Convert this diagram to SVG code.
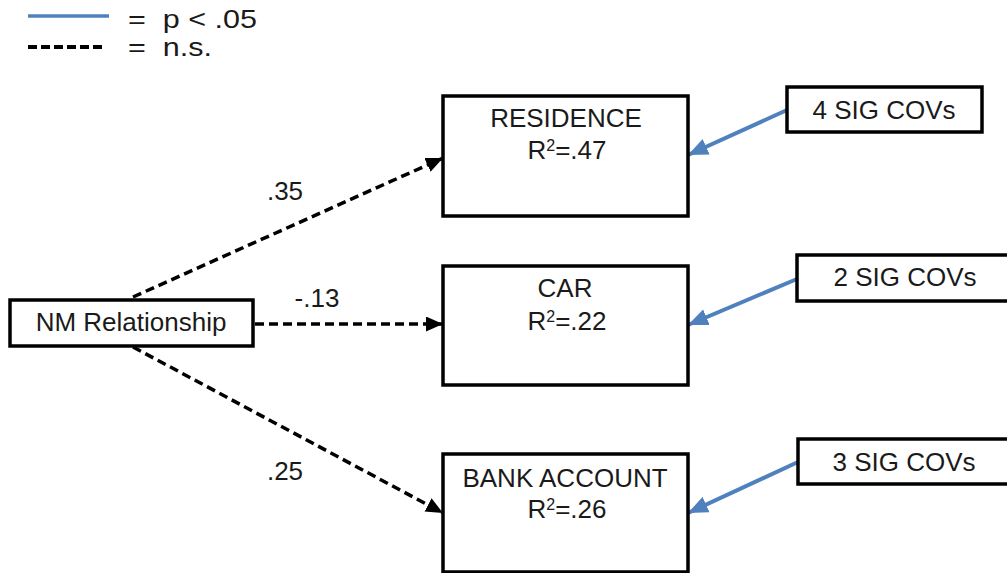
<svg xmlns="http://www.w3.org/2000/svg" width="1007" height="573" viewBox="0 0 1007 573">
  <defs>
    <marker id="arrowBlack" viewBox="0 0 17 15" refX="17" refY="7.5" markerWidth="17" markerHeight="15" markerUnits="userSpaceOnUse" orient="auto">
      <path d="M0,0 L17,7.5 L0,15 Z" fill="#000"/>
    </marker>
    <marker id="arrowBlue" viewBox="0 0 20 17" refX="20" refY="8.5" markerWidth="20" markerHeight="17" markerUnits="userSpaceOnUse" orient="auto">
      <path d="M0,0 L20,8.5 L0,17 Z" fill="#4F81BD"/>
    </marker>
  </defs>
  <style>
    text { font-family: "Liberation Sans", Arial, sans-serif; font-size: 26px; fill: #1a1a1a; }
    .box { fill: #fff; stroke: #000; stroke-width: 3.5; }
    .ns { fill: none; stroke: #000; stroke-width: 3.5; stroke-dasharray: 9 5; }
    .sig { fill: none; stroke: #4F81BD; stroke-width: 4; }
    .mid { text-anchor: middle; }
    .sup { font-size: 16px; }
  </style>
  <rect width="1007" height="573" fill="#fff"/>

  <!-- legend -->
  <g id="legend">
    <line x1="28" y1="16" x2="109" y2="16" stroke="#4F81BD" stroke-width="3.5"/>
    <text x="128" y="28" textLength="129" lengthAdjust="spacingAndGlyphs" xml:space="preserve">=  p &lt; .05</text>
    <line x1="28" y1="47" x2="105" y2="47" stroke="#000" stroke-width="4" stroke-dasharray="9 4"/>
    <text x="128" y="56" textLength="84" lengthAdjust="spacingAndGlyphs" xml:space="preserve">=  n.s.</text>
  </g>

  <!-- connectors -->
  <g id="connectors">
    <path class="ns" d="M133,297 L443,158" marker-end="url(#arrowBlack)"/>
    <path class="ns" d="M255,324 L443,324" marker-end="url(#arrowBlack)"/>
    <path class="ns" d="M133,347 L443,513" marker-end="url(#arrowBlack)"/>
    <path class="sig" d="M787,110 L688,155" marker-end="url(#arrowBlue)"/>
    <path class="sig" d="M797,279 L688,325" marker-end="url(#arrowBlue)"/>
    <path class="sig" d="M798,462 L688,513" marker-end="url(#arrowBlue)"/>
    <text class="mid" x="285" y="200">.35</text>
    <text class="mid" x="317" y="307">-.13</text>
    <text class="mid" x="285" y="480">.25</text>
  </g>

  <g id="nm-relationship">
    <rect class="box" x="10" y="300" width="243" height="46"/>
    <text class="mid" x="131" y="331">NM Relationship</text>
  </g>

  <g id="residence">
    <rect class="box" x="443" y="96" width="245" height="120"/>
    <text class="mid" x="566" y="127">RESIDENCE</text>
    <text class="mid" x="567" y="159">R<tspan class="sup" dy="-8">2</tspan><tspan dy="8">=.47</tspan></text>
  </g>

  <g id="car">
    <rect class="box" x="443" y="266" width="245" height="119"/>
    <text class="mid" x="565" y="297">CAR</text>
    <text class="mid" x="567" y="330">R<tspan class="sup" dy="-8">2</tspan><tspan dy="8">=.22</tspan></text>
  </g>

  <g id="bank-account">
    <rect class="box" x="443" y="454" width="245" height="118"/>
    <text class="mid" x="565" y="487">BANK ACCOUNT</text>
    <text class="mid" x="567" y="518">R<tspan class="sup" dy="-8">2</tspan><tspan dy="8">=.26</tspan></text>
  </g>

  <g id="cov-residence">
    <rect class="box" x="787" y="87" width="195" height="45"/>
    <text class="mid" x="884" y="119">4 SIG COVs</text>
  </g>

  <g id="cov-car">
    <rect class="box" x="797" y="255" width="212" height="46"/>
    <text class="mid" x="905" y="286">2 SIG COVs</text>
  </g>

  <g id="cov-bank">
    <rect class="box" x="798" y="439" width="212" height="45"/>
    <text class="mid" x="904" y="471">3 SIG COVs</text>
  </g>
</svg>
